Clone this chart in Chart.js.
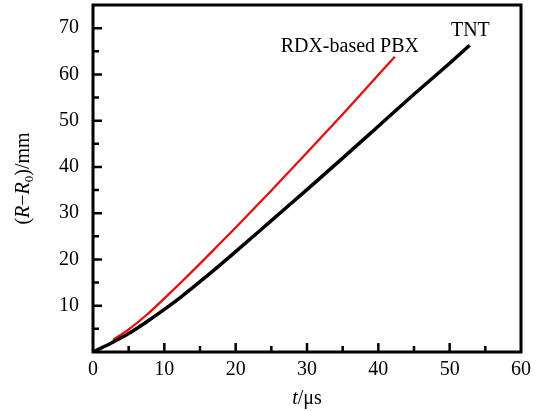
<!DOCTYPE html>
<html>
<head>
<meta charset="utf-8">
<script src="https://cdn.jsdelivr.net/npm/chart.js@4"></script>
<style>
html,body{margin:0;padding:0;background:#fff;}
#wrap{width:541px;height:411px;}
</style>
</head>
<body>
<div id="wrap"><canvas id="c" width="541" height="411"></canvas></div>
<script>
// Data
const tntT   = [0, 2.5, 5, 7.5, 10, 12.5, 15, 17.5, 20, 25, 30, 35, 40, 45, 50, 52.8];
const tntR   = [0, 1.9, 4.0, 6.5, 9.2, 12.1, 15.2, 18.4, 21.7, 28.4, 35.1, 41.9, 48.8, 55.7, 62.4, 66.3];
const rdxT   = [2.8, 5, 7.5, 10, 12.5, 15, 17.5, 20, 25, 30, 35, 40, 42.3];
const rdxR   = [2.6, 4.9, 8.0, 11.6, 15.3, 19.1, 23.0, 26.9, 34.9, 43.1, 51.4, 59.9, 63.8];
const xTickLabels = [0, 10, 20, 30, 40, 50, 60];
const yTickLabels = [10, 20, 30, 40, 50, 60, 70];
const labels = [
  {text: 'RDX-based PBX', x: 36.0, y: 65.9},
  {text: 'TNT', x: 52.9, y: 69.5}
];

const SERIF = '"Liberation Serif", "DejaVu Serif", serif';
const toPts = (xs, ys) => xs.map((x, i) => ({x: x, y: ys[i]}));

const framePlugin = {
  id: 'frame',
  afterDraw(chart) {
    const ctx = chart.ctx;
    const a = chart.chartArea;
    const xs = chart.scales.x, ys = chart.scales.y;
    ctx.save();
    ctx.strokeStyle = '#000';
    ctx.lineWidth = 3;
    ctx.strokeRect(a.left, a.top, a.right - a.left, a.bottom - a.top);
    ctx.lineWidth = 2.5;
    ctx.beginPath();
    for (let v = 5; v < 60; v += 5) {
      const px = xs.getPixelForValue(v);
      const len = v % 10 === 0 ? 9 : 6;
      ctx.moveTo(px, a.bottom);
      ctx.lineTo(px, a.bottom - len);
    }
    for (let v = 5; v < 75; v += 5) {
      const py = ys.getPixelForValue(v);
      const len = v % 10 === 0 ? 9 : 6;
      ctx.moveTo(a.left, py);
      ctx.lineTo(a.left + len, py);
    }
    ctx.stroke();

    // annotations
    ctx.fillStyle = '#000';
    ctx.font = '20px ' + SERIF;
    ctx.textAlign = 'center';
    ctx.textBaseline = 'middle';
    labels.forEach(l => ctx.fillText(l.text, xs.getPixelForValue(l.x), ys.getPixelForValue(l.y)));

    function drawRun(segs, cx, cy) {
      let w = 0;
      segs.forEach(s => { ctx.font = s.f; w += ctx.measureText(s.t).width; });
      let x = cx - w / 2;
      ctx.textAlign = 'left';
      segs.forEach(s => {
        ctx.font = s.f;
        ctx.fillText(s.t, x, cy + (s.dy || 0));
        x += ctx.measureText(s.t).width;
      });
    }
    ctx.textBaseline = 'alphabetic';
    drawRun([
      {t: 't', f: 'italic 20px ' + SERIF},
      {t: '/μs', f: '20px ' + SERIF}
    ], (a.left + a.right) / 2, 404);

    ctx.save();
    ctx.translate(29, (a.top + a.bottom) / 2);
    ctx.rotate(-Math.PI / 2);
    drawRun([
      {t: '(', f: '20px ' + SERIF},
      {t: 'R', f: 'italic 20px ' + SERIF},
      {t: '−', f: '20px ' + SERIF},
      {t: 'R', f: 'italic 20px ' + SERIF},
      {t: '0', f: '13px ' + SERIF, dy: 4},
      {t: ')/mm', f: '20px ' + SERIF}
    ], 0, 0);
    ctx.restore();
    ctx.restore();
  }
};

new Chart(document.getElementById('c'), {
  type: 'line',
  data: {
    datasets: [
      {
        label: 'TNT',
        data: toPts(tntT, tntR),
        borderColor: '#000',
        borderWidth: 3.5,
        pointRadius: 0,
        cubicInterpolationMode: 'monotone',
        fill: false
      },
      {
        label: 'RDX-based PBX',
        data: toPts(rdxT, rdxR),
        borderColor: '#ff0000',
        borderWidth: 2.2,
        pointRadius: 0,
        cubicInterpolationMode: 'monotone',
        fill: false
      }
    ]
  },
  options: {
    responsive: false,
    animation: false,
    layout: {padding: {left: 0, right: 20, top: 5, bottom: 0}},
    plugins: {legend: {display: false}, tooltip: {enabled: false}},
    scales: {
      x: {
        type: 'linear',
        min: 0, max: 60,
        afterFit: s => { s.height = 59; s.paddingLeft = 0; s.paddingRight = 0; },
        afterBuildTicks: s => { s.ticks = xTickLabels.map(v => ({value: v})); },
        grid: {display: false, drawTicks: false},
        border: {display: false},
        ticks: {
          color: '#000',
          font: {family: SERIF, size: 20},
          padding: 6,
          maxRotation: 0,
          autoSkip: false
        }
      },
      y: {
        type: 'linear',
        min: 0, max: 75,
        afterFit: s => { s.width = 93; s.paddingTop = 0; s.paddingBottom = 0; },
        afterBuildTicks: s => { s.ticks = yTickLabels.map(v => ({value: v})); },
        grid: {display: false, drawTicks: false},
        border: {display: false},
        ticks: {
          color: '#000',
          font: {family: SERIF, size: 20},
          padding: 14,
          autoSkip: false
        }
      }
    }
  },
  plugins: [framePlugin]
});
</script>
</body>
</html>
